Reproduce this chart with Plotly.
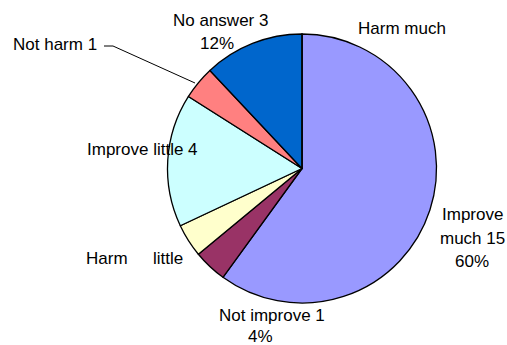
import plotly.graph_objects as go

W, H = 507, 345

# Data
categories = ["Improve much", "Not improve", "Harm little", "Improve little",
              "Not harm", "No answer", "Harm much"]
counts = [15, 1, 1, 4, 1, 3, 0]
colors = ["#9999FF", "#993366", "#FFFFCC", "#CCFFFF", "#FF8080", "#0066CC", "#000000"]

# Label lines (text pieces as displayed)
label_lines = [
    ("Improve", 472, 214.5),
    ("much 15", 472, 238),
    ("60%", 472, 261.5),
    ("Not improve 1", 272, 315.5),
    ("4%", 260, 336.5),
    ("Harm", 107, 258),
    ("little", 168, 258),
    ("Improve little 4", 142.5, 149),
    ("Not harm 1", 54.5, 44.5),
    ("No answer 3", 220.5, 20),
    ("12%", 217, 43.5),
    ("Harm much", 402, 28.5),
]

cx, cy, r = 302, 168.5, 134.5

fig = go.Figure(go.Pie(
    labels=categories,
    values=counts,
    sort=False,
    direction="clockwise",
    rotation=0,
    marker=dict(colors=colors, line=dict(color="#000000", width=1.3)),
    textinfo="none",
    hoverinfo="label+value+percent",
    showlegend=False,
    domain=dict(x=[(cx - r) / W, (cx + r) / W],
                y=[1 - (cy + r) / H, 1 - (cy - r) / H]),
))

font = dict(family="Liberation Sans, Arial, sans-serif", size=17, color="#000000")
for txt, px, py in label_lines:
    fig.add_annotation(text=txt, x=px / W, y=1 - py / H, xref="paper", yref="paper",
                       xanchor="center", yanchor="middle", showarrow=False, font=font,
                       borderpad=0)

# leader line for "Not harm 1"
pts = [(104, 46), (113, 46), (195, 83)]
path = "M " + " L ".join(f"{x / W},{1 - y / H}" for x, y in pts)
fig.add_shape(type="path", path=path, xref="paper", yref="paper",
              line=dict(color="#000000", width=1))

fig.update_layout(
    width=W, height=H,
    margin=dict(l=0, r=0, t=0, b=0),
    paper_bgcolor="white", plot_bgcolor="white",
    font=font,
)

fig.write_html("out.html")
